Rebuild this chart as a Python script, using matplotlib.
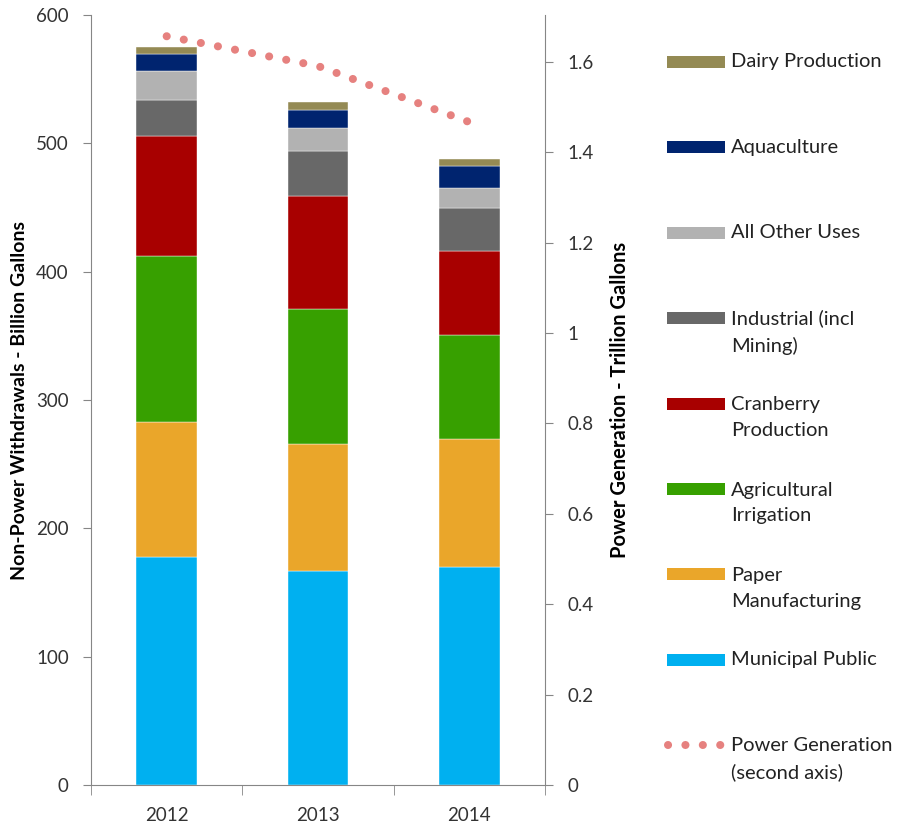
import numpy as np
import matplotlib
matplotlib.use("Agg")
import matplotlib.pyplot as plt
from matplotlib.patches import Rectangle
from matplotlib.lines import Line2D

plt.rcParams['font.family'] = ['Lato', 'DejaVu Sans']

years = ['2012', '2013', '2014']

# stacked segments, bottom to top (billion gallons)
municipal = [178, 167, 170]
paper = [105, 99, 100]
agricultural = [129, 105, 81]
cranberry = [94, 88, 65]
industrial = [28, 35, 34]
other_uses = [22, 18, 15]
aquaculture = [14, 14, 17]
dairy = [5, 6, 6]

# trillion gallons, second axis
power_gen = [1.657, 1.591, 1.467]

series = [
    ('Municipal Public', municipal, '#00B0F0'),
    ('Paper\nManufacturing', paper, '#EAA62A'),
    ('Agricultural\nIrrigation', agricultural, '#37A000'),
    ('Cranberry\nProduction', cranberry, '#A80000'),
    ('Industrial (incl\nMining)', industrial, '#686868'),
    ('All Other Uses', other_uses, '#B2B2B2'),
    ('Aquaculture', aquaculture, '#00246F'),
    ('Dairy Production', dairy, '#948A54'),
]
power_label = 'Power Generation\n(second axis)'
power_color = '#E6817F'

fig = plt.figure(figsize=(9, 8.26), dpi=100)
ax = fig.add_axes([91 / 900, 41 / 826, (545 - 91) / 900, 770 / 826])

x = np.arange(len(years))
bottom = np.zeros(len(years))
for name, vals, color in series:
    ax.bar(x, vals, width=0.4, bottom=bottom, color=color,
           edgecolor='white', linewidth=0.3)
    bottom += np.array(vals)

ax.set_xlim(-0.5, 2.5)
ax.set_ylim(0, 600)
ax.set_yticks(range(0, 601, 100))
ax.set_xticks(x)
ax.set_xticklabels(years)
ax.set_xticks([-0.5, 0.5, 1.5, 2.5], minor=True)
ax.tick_params(axis='x', which='major', length=0, pad=16)
ax.tick_params(axis='x', which='minor', length=7, color='#868686')
ax.tick_params(axis='y', length=6, color='#868686', pad=10)
ax.tick_params(labelsize=13.5, labelcolor='#333333')
for side in ['top', 'right']:
    ax.spines[side].set_visible(False)
for side in ['left', 'bottom']:
    ax.spines[side].set_color('#868686')
ax.set_ylabel('Non-Power Withdrawals - Billion Gallons', fontsize=14,
              fontweight='bold')
ax.yaxis.set_label_coords(-0.138, 0.5)

ax2 = ax.twinx()
ax2.plot(x, power_gen, color=power_color, linewidth=5.8,
         linestyle=(0, (0.01, 2.15)), dash_capstyle='round')
ax2.set_ylim(0, 1.704)
ax2.set_yticks(np.arange(0, 1.61, 0.2))
ax2.set_yticklabels(['0', '0.2', '0.4', '0.6', '0.8', '1', '1.2', '1.4', '1.6'])
ax2.tick_params(axis='y', length=6, color='#868686', labelsize=13.5,
                labelcolor='#333333', pad=10)
for side in ['top', 'left', 'bottom']:
    ax2.spines[side].set_visible(False)
ax2.spines['right'].set_color('#868686')
ax2.set_ylabel('Power Generation - Trillion Gallons', fontsize=14.5,
               fontweight='bold')
ax2.yaxis.set_label_coords(1.143, 0.5)

# legend, drawn by hand so the entries keep equal spacing
entries = [(n, c) for n, v, c in series[::-1]] + [(power_label, None)]
for i, (name, color) in enumerate(entries):
    yp = 62 + 85.4 * i
    yf = 1 - yp / 826
    if color is not None:
        fig.add_artist(Rectangle((667 / 900, yf - 6 / 826), 58 / 900, 12 / 826,
                                 transform=fig.transFigure, facecolor=color,
                                 edgecolor='none'))
    else:
        fig.add_artist(Line2D([668 / 900, 722 / 900], [yf, yf],
                              transform=fig.transFigure, color=power_color,
                              linewidth=5.8, linestyle=(0, (0.01, 2.15)),
                              dash_capstyle='round'))
    nlines = name.count('\n') + 1
    fig.text(731 / 900, 1 - (yp + 14 * (nlines - 1)) / 826, name,
             fontsize=14.5, color='#222222', va='center', ha='left',
             linespacing=1.63)

fig.savefig('out.png', dpi=100, facecolor='white')
